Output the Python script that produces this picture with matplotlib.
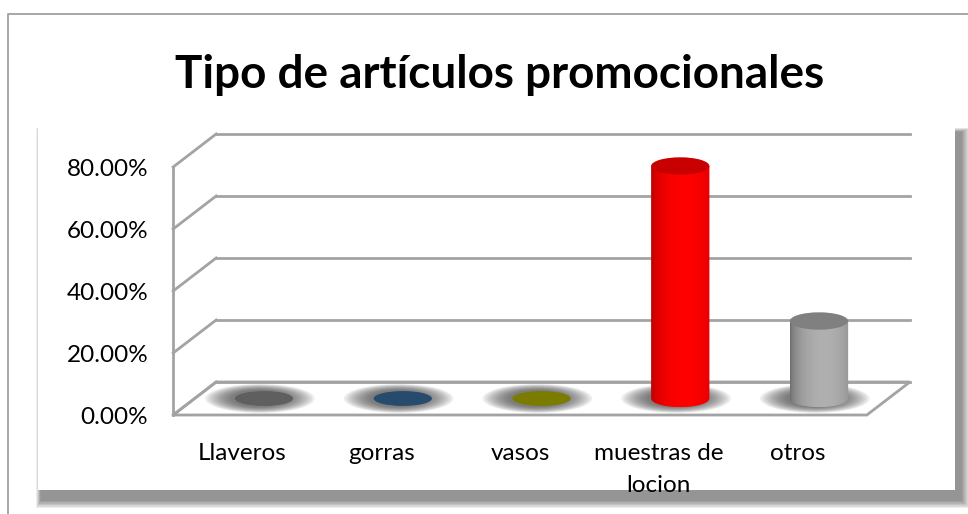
import numpy as np
import matplotlib
matplotlib.use('Agg')
import matplotlib.pyplot as plt
from matplotlib.patches import Ellipse, Polygon, Rectangle, PathPatch
from matplotlib.path import Path
from matplotlib.colors import to_rgb

# ---------------------------------
# data
title = 'Tipo de artículos promocionales'
categories = ['Llaveros', 'gorras', 'vasos', 'muestras de\nlocion', 'otros']
values = [0.0, 0.0, 0.0, 75.0, 25.0]
yticks = [0, 20, 40, 60, 80]
ytick_labels = ['0.00%', '20.00%', '40.00%', '60.00%', '80.00%']
side_colors = ['#4a4a4a', '#1f3f5e', '#6a6a00', '#b80000', '#6a6a6a']
mid_colors = ['#5f5f5f', '#274b6d', '#7b7b00', '#ff0000', '#b0b0b0']
top_colors = ['#5f5f5f', '#274b6d', '#7b7b00', '#c80000', '#808080']

plt.rcParams['font.family'] = ['Lato', 'DejaVu Sans']

# 3D look: depth of the floor in axis units
DX = 0.31
DY = 10.65
BAR_W = 0.42
CAP_H = 5.6
DISC_H = 4.8

fig = plt.figure(figsize=(9.68, 5.14), dpi=100)

# ---------------------------------
# background: chart border, plot panel with its shadow (pixel coords)
bg = fig.add_axes([0, 0, 1, 1])
bg.set_xlim(0, 968)
bg.set_ylim(514, 0)
bg.axis('off')
bg.plot([7.5, 7.5, 968], [514, 13.5, 13.5], color='#a0a0a0', lw=1.3)
for k in range(14):
    grow = 14 - k
    bg.add_patch(Rectangle((38 + 3 - grow * 0.35, 126 + 6 - grow * 0.3),
                           917 + 3 + grow * 1.0, 364 + 4 + grow * 0.9,
                           facecolor='black', edgecolor='none', alpha=0.035))
bg.add_patch(Rectangle((38, 126), 917, 364, facecolor='white', edgecolor='none'))

fig.text(500 / 968, 1 - 75 / 514, title, ha='center', va='center',
         fontsize=33, fontweight='bold')

# ---------------------------------
# main axes
ax = fig.add_axes([156.5 / 968, 92.8 / 514, 772.8 / 968, 294.5 / 514])
ax.patch.set_alpha(0)
for s in ax.spines.values():
    s.set_visible(False)

grid_c = '#a3a3a3'
x0, x1 = -0.5, len(categories) - 0.5
# floor
ax.add_patch(Polygon([(x0, 0), (x1, 0), (x1 + DX, DY), (x0 + DX, DY)],
                     closed=True, facecolor='white', edgecolor=grid_c, lw=2, zorder=1))
# back wall gridlines + left wall
for v in yticks:
    ax.plot([x0 + DX, x1 + DX], [v + DY, v + DY], color=grid_c, lw=2, zorder=1)
    ax.plot([x0, x0 + DX], [v, v + DY], color=grid_c, lw=2, zorder=1)
ax.plot([x0, x0], [0, yticks[-1]], color=grid_c, lw=2, zorder=1)


def base_shadow(cx, cy):
    for k in range(12):
        f = 1.0 + 0.08 * k
        ax.add_patch(Ellipse((cx, cy), BAR_W * f, DISC_H * (1 + 0.07 * k) + 0.8,
                             facecolor='#404040', edgecolor='none', alpha=0.085, zorder=2))


def cylinder(cx, y0, h, c_side, c_mid, c_top):
    t = np.linspace(np.pi, 2 * np.pi, 60)
    bx = cx + BAR_W / 2 * np.cos(t)
    by = y0 + CAP_H / 2 * np.sin(t)
    verts = [(cx - BAR_W / 2, y0 + h)] + list(zip(bx, by)) + \
            [(cx + BAR_W / 2, y0 + h), (cx - BAR_W / 2, y0 + h)]
    codes = [Path.MOVETO] + [Path.LINETO] * (len(verts) - 2) + [Path.CLOSEPOLY]
    body = PathPatch(Path(verts, codes), facecolor='none', edgecolor='none')
    ax.add_patch(body)
    s = np.linspace(0, 1, 200)
    shade = 1 - ((s - 0.58) / 0.58) ** 2
    shade = np.clip(shade, 0, 1) ** 0.6
    c1, c2 = np.array(to_rgb(c_side)), np.array(to_rgb(c_mid))
    grad = c1[None, :] + (c2 - c1)[None, :] * shade[:, None]
    im = ax.imshow(grad[None, :, :], extent=[cx - BAR_W / 2, cx + BAR_W / 2,
                                            y0 - CAP_H / 2, y0 + h],
                   aspect='auto', origin='lower', zorder=3, interpolation='bilinear')
    im.set_clip_path(body)
    ax.add_patch(Ellipse((cx, y0 + h), BAR_W, CAP_H, facecolor=c_top,
                         edgecolor='none', zorder=4))


for i, v in enumerate(values):
    cx = i + DX / 2
    cy = DY / 2
    base_shadow(cx - 0.03, cy)
    if v > 0:
        cylinder(cx, cy, v, side_colors[i], mid_colors[i], top_colors[i])
    else:
        ax.add_patch(Ellipse((cx, cy), BAR_W, DISC_H, facecolor=mid_colors[i],
                             edgecolor='none', zorder=3))

ax.set_xlim(-0.62, 4.95)
ax.set_ylim(-2, 93)
ax.set_yticks(yticks)
ax.set_yticklabels(ytick_labels)
ax.set_xticks(range(len(categories)))
ax.set_xticklabels(categories, linespacing=1.6)
ax.tick_params(axis='both', length=0, labelsize=17.5, colors='black')
ax.tick_params(axis='y', pad=6)
ax.tick_params(axis='x', pad=16)

fig.savefig('out.png', dpi=100)
